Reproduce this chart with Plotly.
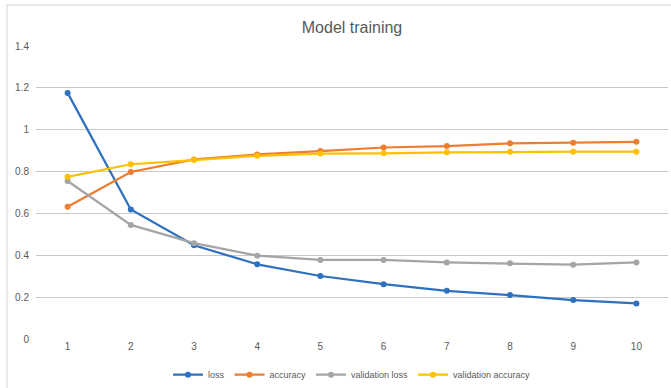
import plotly.graph_objects as go

epochs = ["1", "2", "3", "4", "5", "6", "7", "8", "9", "10"]
loss = [1.176, 0.619, 0.448, 0.357, 0.301, 0.262, 0.230, 0.210, 0.186, 0.170]
accuracy = [0.632, 0.798, 0.858, 0.882, 0.898, 0.915, 0.922, 0.935, 0.938, 0.942]
val_loss = [0.755, 0.545, 0.458, 0.398, 0.378, 0.378, 0.366, 0.362, 0.355, 0.366]
val_accuracy = [0.775, 0.835, 0.855, 0.875, 0.886, 0.887, 0.892, 0.895, 0.895, 0.895]
y_ticks = [0, 0.2, 0.4, 0.6, 0.8, 1, 1.2, 1.4]
y_tick_text = ["0", "0.2", "0.4", "0.6", "0.8", "1", "1.2", "1.4"]

series = [
    ("loss", loss, "#2E71BE"),
    ("accuracy", accuracy, "#ED7D31"),
    ("validation loss", val_loss, "#A5A5A5"),
    ("validation accuracy", val_accuracy, "#FFC000"),
]

FONT = "Liberation Sans, Arial, sans-serif"

fig = go.Figure()
for name, vals, color in series:
    fig.add_trace(go.Scatter(
        x=epochs, y=vals, name=name, mode="lines+markers",
        line=dict(color=color, width=2.25),
        marker=dict(color=color, size=6),
    ))

fig.update_layout(
    width=671, height=388,
    margin=dict(l=36, r=3, t=46, b=49, autoexpand=False),
    paper_bgcolor="white", plot_bgcolor="white",
    font=dict(family=FONT, color="#595959", size=10),
    title=dict(text="Model training", x=0.5, xref="paper", xanchor="center",
               y=1 - 27 / 388, yanchor="middle", automargin=False,
               font=dict(family=FONT, size=16, color="#595959")),
    showlegend=True,
    legend=dict(orientation="h", x=0.5, xanchor="center", y=-0.122, yanchor="middle",
                font=dict(family=FONT, size=9, color="#595959"), tracegroupgap=0,
                bgcolor="rgba(0,0,0,0)"),
    xaxis=dict(type="category", range=[-0.5, 9.5], showgrid=False, showline=False,
               zeroline=False, automargin=False, ticks="",
               tickfont=dict(family=FONT, size=10, color="#595959")),
    yaxis=dict(range=[0, 1.4], tickvals=y_ticks, ticktext=y_tick_text,
               showgrid=True, gridcolor="#C8C8C8", gridwidth=1, zeroline=False,
               automargin=False, showline=False, ticks="", ticklabelstandoff=6,
               tickfont=dict(family=FONT, size=10, color="#595959")),
    shapes=[dict(type="rect", xref="paper", yref="paper",
                 x0=(7 - 36) / 632, x1=(680 - 36) / 632,
                 y0=(339 - 400) / 293, y1=(339 - 5) / 293,
                 line=dict(color="#D0D0D0", width=1), fillcolor="rgba(0,0,0,0)",
                 layer="below")],
)

fig.write_html("out.html", config={"displayModeBar": False},
               post_script="document.body.style.margin='0';")
